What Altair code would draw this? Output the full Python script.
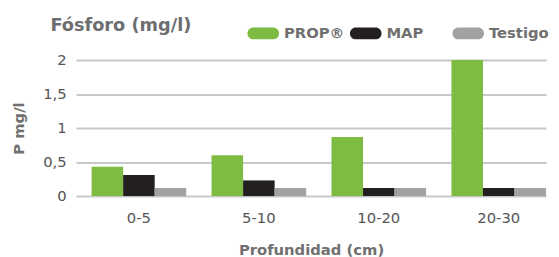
import altair as alt
import pandas as pd

categories = ["0-5", "5-10", "10-20", "20-30"]
series = ["PROP®", "MAP", "Testigo"]
prop_vals = [0.43, 0.60, 0.87, 2.0]
map_vals = [0.31, 0.23, 0.12, 0.12]
testigo_vals = [0.12, 0.12, 0.12, 0.12]
colors = ["#7DBB42", "#231F20", "#A0A2A3"]

rows = []
for s, vals in zip(series, [prop_vals, map_vals, testigo_vals]):
    for c, v in zip(categories, vals):
        rows.append({"Profundidad": c, "Serie": s, "valor": v})
df = pd.DataFrame(rows)

pill = "M-0.625,-0.375 L0.625,-0.375 A0.375,0.375 0 0 1 0.625,0.375 L-0.625,0.375 A0.375,0.375 0 0 1 -0.625,-0.375 Z"

FONT = "DejaVu Sans"

chart = alt.Chart(df).mark_bar().encode(
    x=alt.X("Profundidad:N", sort=categories,
            scale=alt.Scale(paddingInner=0.211, paddingOuter=0.065, align=1),
            axis=alt.Axis(title="Profundidad (cm)", labelAngle=0, ticks=False, domain=False,
                          labelPadding=15, labelFontSize=15, labelColor="#555555",
                          labelFont=FONT, titleFont=FONT, titleFontSize=15,
                          titleFontWeight="bold", titleColor="#707070", titlePadding=17)),
    xOffset=alt.XOffset("Serie:N", sort=series, scale=alt.Scale(paddingInner=0, paddingOuter=0)),
    y=alt.Y("valor:Q", scale=alt.Scale(domain=[0, 2], nice=False),
            axis=alt.Axis(title="P mg/l", values=[0, 0.5, 1, 1.5, 2],
                          labelExpr="replace(format(datum.value, '~g'), '.', ',')",
                          ticks=False, domain=False, labelPadding=10,
                          labelFontSize=15, labelColor="#555555", labelFont=FONT,
                          gridColor="#C8C8C8", gridWidth=2,
                          titleFont=FONT, titleFontSize=15, titleFontWeight="bold",
                          titleColor="#707070", titleX=-58, titleY=69,
                          titleBaseline="middle", titleAlign="center")),
    color=alt.Color("Serie:N", sort=series,
                    scale=alt.Scale(domain=series, range=colors),
                    legend=alt.Legend(title=None, orient="none", direction="horizontal",
                                      legendX=174, legendY=-43, gridAlign="all",
                                      symbolType=pill, symbolSize=1024,
                                      symbolStrokeWidth=0, symbolOpacity=1,
                                      labelFont=FONT, labelFontSize=15,
                                      labelFontWeight="bold", labelColor="#707070",
                                      columnPadding=5, labelOffset=5)),
).properties(
    width=477, height=138,
    title=alt.TitleParams("Fósforo (mg/l)", anchor="start", frame="group", font=FONT,
                          fontSize=18, fontWeight="bold", color="#6D6E70", dx=-26,
                          offset=-17),
    autosize=alt.AutoSizeParams(type="none"),
    padding={"left": 69, "top": 51, "right": 5, "bottom": 60},
).configure_view(stroke=None)

chart.save("out.html", embed_options={"renderer": "svg", "actions": False})
